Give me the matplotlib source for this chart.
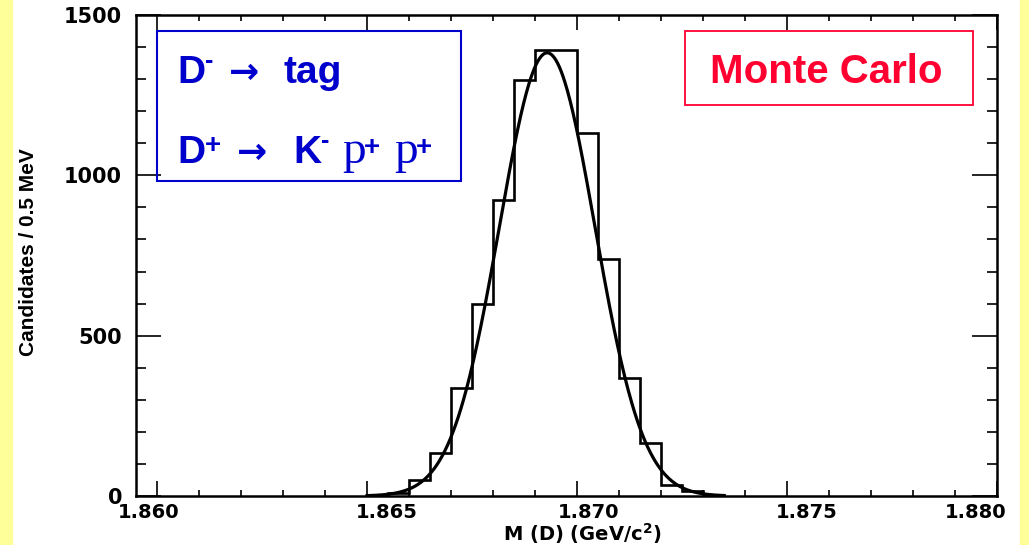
import matplotlib
matplotlib.use("Agg")
import matplotlib.pyplot as plt
import numpy as np
from matplotlib import font_manager
from matplotlib.patches import Rectangle
from matplotlib.ticker import MultipleLocator
from matplotlib.transforms import ScaledTranslation

# histogram of D mass, 0.5 MeV bins starting at 1.865 GeV
bin_lo = 1.865
bin_width = 0.0005
counts = [3, 8, 50, 134, 337, 600, 922, 1297, 1390, 1390,
          1131, 740, 369, 166, 34, 15, 2]

# gaussian fit overlay (parameters)
fit_mean = 1.86929
fit_sigma = 0.00114
fit_peak = 1382
fit_lo, fit_hi = 1.865, 1.8735

x_ticks = [1.860, 1.865, 1.870, 1.875, 1.880]
x_tick_labels = ["1.860", "1.865", "1.870", "1.875", "1.880"]
y_ticks = [0, 500, 1000, 1500]

W, H = 1029, 545
blue = "#0000cc"
red = "#ff0030"
yellow = "#ffff99"
sans = ["Liberation Sans", "DejaVu Sans"]
serif = ["Liberation Serif", "DejaVu Serif"]

names = {f.name for f in font_manager.fontManager.ttflist}
narrow = "Liberation Sans Narrow" if "Liberation Sans Narrow" in names else "Liberation Sans"

fig = plt.figure(figsize=(W / 100, H / 100), dpi=100)
fig.patch.set_facecolor("white")
fig.add_artist(Rectangle((0, 0), 12 / W, 1, transform=fig.transFigure,
                         color=yellow, zorder=-5))
fig.add_artist(Rectangle((1020 / W, 0), 9 / W, 1, transform=fig.transFigure,
                         color=yellow, zorder=-5))

ax = fig.add_axes([136 / W, 1 - 496 / H, (997 - 136) / W, (496 - 15) / H])

edges = bin_lo + bin_width * np.arange(len(counts) + 1)
ax.stairs(counts, edges, color="black", lw=1.9)

xf = np.linspace(fit_lo, fit_hi, 400)
yf = fit_peak * np.exp(-0.5 * ((xf - fit_mean) / fit_sigma) ** 2)
ax.plot(xf, yf, color="black", lw=2.3)

ax.set_xlim(1.8595, 1.880)
ax.set_ylim(0, 1500)
ax.set_xticks(x_ticks)
ax.set_xticklabels(x_tick_labels)
ax.set_yticks(y_ticks)
ax.xaxis.set_minor_locator(MultipleLocator(0.001))
ax.yaxis.set_minor_locator(MultipleLocator(100))

for s in ax.spines.values():
    s.set_linewidth(1.8)

ax.tick_params(axis="both", which="both", direction="in", top=True, right=True,
               width=1.2, labelsize=15)
ax.tick_params(axis="x", which="major", length=11, pad=5, labelsize=14)
ax.tick_params(axis="x", which="minor", length=4)
ax.tick_params(axis="y", which="major", length=18, pad=10)
ax.tick_params(axis="y", which="minor", length=7)
for lab in ax.get_xticklabels() + ax.get_yticklabels():
    lab.set_fontweight("bold")
    lab.set_family("DejaVu Sans")

# ROOT-style label shifts
for lab, dx in zip(ax.get_xticklabels(), [-8, 20, 12, 20, -21]):
    lab.set_transform(lab.get_transform() + ScaledTranslation(dx / 100, 0, fig.dpi_scale_trans))

ax.set_xlabel("M (D) (GeV/c$^{\\mathbf{2}}$)", fontsize=14, fontweight="bold",
              family="DejaVu Sans", va="baseline")
ax.xaxis.set_label_coords((582 - 136) / 861, (496 - 541) / 481)
ax.set_ylabel("Candidates / 0.5 MeV", fontsize=15, fontweight="bold", family=narrow)
ax.yaxis.set_label_coords((38 - 136) / 861, (496 - 252) / 481)


def put(x, y, s, size, color=blue, weight="bold", family=sans):
    fig.text(x / W, 1 - y / H, s, fontsize=size, color=color,
             fontweight=weight, family=family, ha="left", va="baseline")


# decay box
fig.add_artist(Rectangle((157 / W, 1 - 181 / H), 304 / W, 150 / H,
                         transform=fig.transFigure, fill=False, ec=blue, lw=1.5))
arrow_font = ["DejaVu Sans"]
put(177, 83, "D", 28)
put(205, 68, "-", 18)
put(229, 83, "\u2192", 26, family=arrow_font)
put(283, 83, "tag", 28)

put(177, 163, "D", 28)
put(205, 153, "+", 20)
put(237, 163, "\u2192", 26, family=arrow_font)
put(293, 163, "K", 28)
put(321, 148, "-", 18)
put(342, 163, "p", 34, weight="normal", family=serif)
put(364, 155, "+", 20)
put(394, 163, "p", 34, weight="normal", family=serif)
put(416, 155, "+", 20)

# Monte Carlo box
fig.add_artist(Rectangle((685 / W, 1 - 105 / H), 288 / W, 74 / H,
                         transform=fig.transFigure, fill=False, ec=red, lw=1.3))
fig.text(826 / W, 1 - 83 / H, "Monte Carlo", fontsize=29, color=red,
         fontweight="bold", family=sans, ha="center", va="baseline")

fig.savefig("out.png", dpi=100)
